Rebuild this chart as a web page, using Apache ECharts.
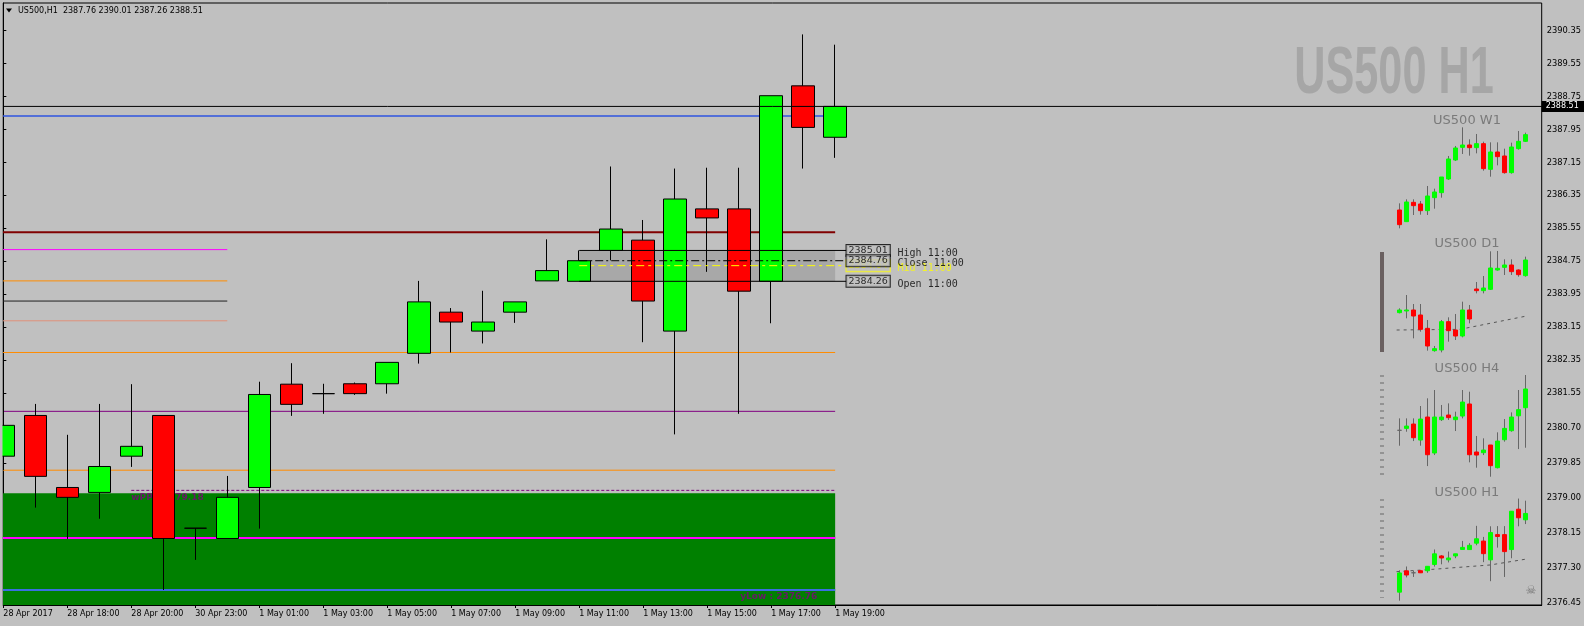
<!DOCTYPE html>
<html><head><meta charset="utf-8">
<script src="https://cdn.jsdelivr.net/npm/echarts@6/dist/echarts.min.js"></script>
<style>html,body{margin:0;padding:0;background:#c0c0c0;}#c{width:1584px;height:626px;}</style>
</head><body><div id="c"></div>
<script>
// ---------- DATA ----------
const timeTickIndex = [0,2,4,6,8,10,12,14,16,18,20,22,24,26];
const timeLabels = ['28 Apr 2017','28 Apr 18:00','28 Apr 20:00','30 Apr 23:00','1 May 01:00','1 May 03:00','1 May 05:00','1 May 07:00','1 May 09:00','1 May 11:00','1 May 13:00','1 May 15:00','1 May 17:00','1 May 19:00'];
const priceTicks = [2390.35,2389.55,2388.75,2387.95,2387.15,2386.35,2385.55,2384.75,2383.95,2383.15,2382.35,2381.55,2380.70,2379.85,2379.00,2378.15,2377.30,2376.45];
// main H1 candles: [open, close, low, high]
const h1Candles = [
 [2380.01,2380.76,2379.67,2382.01],[2381.00,2379.52,2378.76,2381.28],[2379.25,2379.01,2378.00,2380.53],
 [2379.13,2379.76,2378.49,2381.28],[2380.01,2380.25,2379.75,2381.76],[2381.00,2378.01,2376.76,2381.00],
 [2378.26,2378.26,2377.49,2378.26],[2378.01,2379.01,2378.01,2379.53],[2379.25,2381.51,2378.25,2381.82],
 [2381.76,2381.27,2380.99,2382.27],[2381.53,2381.53,2381.04,2381.77],[2381.77,2381.53,2381.50,2381.80],
 [2381.77,2382.29,2381.53,2382.29],[2382.51,2383.76,2382.26,2384.27],[2383.51,2383.27,2382.53,2383.61],
 [2383.05,2383.27,2382.75,2384.03],[2383.51,2383.76,2383.25,2383.76],[2384.27,2384.52,2384.27,2385.28],
 [2384.26,2384.76,2384.26,2385.01],[2385.01,2385.53,2384.77,2387.05],[2385.26,2383.78,2382.78,2385.75],
 [2383.05,2386.26,2380.54,2387.00],[2386.02,2385.80,2384.49,2387.02],[2386.02,2384.02,2381.04,2387.02],
 [2384.26,2388.77,2383.24,2388.77],[2389.01,2388.00,2387.00,2390.26],[2387.76,2388.51,2387.26,2390.01]
];
const w1Candles = [
 [2274.26,2252.26,2246.76,2284.26],[2256.76,2286.26,2256.76,2290.26],[2285.76,2280.76,2266.76,2290.26],
 [2283.26,2273.26,2267.26,2287.76],[2273.26,2295.26,2266.76,2310.26],[2292.76,2301.26,2276.26,2306.26],
 [2300.26,2323.76,2292.76,2323.76],[2320.76,2350.76,2319.26,2355.26],[2349.26,2367.26,2347.76,2370.26],
 [2368.26,2371.76,2358.26,2398.26],[2371.76,2367.76,2355.76,2380.26],[2367.76,2373.76,2359.26,2388.26],
 [2373.76,2336.26,2333.26,2376.76],[2335.26,2361.26,2324.26,2375.76],[2361.26,2354.26,2341.26,2375.76],
 [2355.26,2330.26,2328.76,2366.26],[2330.26,2368.76,2328.76,2375.26],[2366.26,2377.26,2364.76,2392.76],
 [2377.26,2387.26,2376.26,2390.26]
];
const d1Candles = [
 [2353.74,2355.48,2353.30,2356.56],[2354.83,2355.48,2350.04,2365.26],[2355.48,2351.56,2337.00,2359.39],
 [2352.22,2342.87,2341.35,2359.39],[2343.52,2332.00,2328.96,2348.96],[2328.96,2330.26,2328.30,2332.00],
 [2329.39,2347.87,2327.87,2348.96],[2347.87,2342.00,2334.83,2350.70],[2342.43,2338.52,2335.91,2352.87],
 [2338.52,2355.48,2337.65,2360.91],[2355.48,2349.61,2346.78,2358.74],[2369.17,2368.09,2366.35,2373.74],
 [2368.09,2369.83,2366.35,2377.65],[2368.96,2382.87,2368.52,2393.74],[2381.57,2382.65,2381.13,2393.96],
 [2383.30,2384.83,2378.30,2388.52],[2384.83,2380.48,2378.30,2388.52],[2381.57,2378.52,2377.22,2382.00],
 [2377.87,2388.09,2377.22,2390.26]
];
const h4Candles = [
 [2383.14,2383.14,2381.16,2384.68],[2383.39,2383.69,2382.96,2384.68],[2383.95,2382.19,2381.76,2384.68],
 [2381.89,2384.59,2381.16,2386.27],[2384.85,2380.00,2378.54,2387.26],[2380.22,2384.85,2379.96,2388.33],
 [2384.51,2384.85,2384.34,2386.40],[2385.11,2384.77,2384.47,2386.61],[2384.51,2384.85,2383.05,2385.54],
 [2384.98,2386.78,2384.68,2388.33],[2386.53,2380.00,2379.02,2388.11],[2380.35,2379.96,2378.33,2382.41],
 [2380.26,2380.60,2379.96,2382.11],[2381.25,2378.59,2377.17,2381.25],[2378.33,2381.76,2378.24,2382.88],
 [2381.93,2383.39,2381.68,2384.59],[2383.09,2384.85,2382.96,2385.45],[2385.01,2385.80,2380.73,2388.33],
 [2386.05,2388.46,2380.90,2390.26]
];
const d1Trend = [[-0.38,2342.43],[8.67,2342.87],[18.19,2351.56]];
const h1Trend = [[-0.4,2381.66],[5,2381.95],[13,2382.45],[18.2,2383.15]];
// horizontal levels
const longLevels = [2385.45, 2382.53, 2381.10, 2379.67, 2378.02, 2376.76];
const shortLevels = [2385.03, 2384.27, 2383.78, 2383.30];
const wPP = 2379.18, yLow = 2376.76, zoneTop = 2379.11;
const blueLevel = 2388.28, bid = 2388.51;
const hlNames = ['High 11:00','Mid 11:00','Close 11:00','Open 11:00'];
const hlPrices = [2385.01, 2384.64, 2384.76, 2384.26];
const titleText = 'US500,H1  2387.76 2390.01 2387.26 2388.51';
const miniTitles = ['US500 W1','US500 D1','US500 H4','US500 H1'];

// ---------- LAYOUT ----------
const PMIN = 2376.394, PMAX = 2391.023;
const XMIN = -0.01, XMAX = XMIN + 1539/32;
const FONT = '"DejaVu Sans", sans-serif';
const chart = echarts.init(document.getElementById('c'));

function seg(x0,x1,p,color,width,type,z){
  return {type:'line',xAxisIndex:0,yAxisIndex:0,data:[[x0,p],[x1,p]],symbol:'none',silent:true,z:z,
    lineStyle:{color:color,width:width,type:type}};
}
const series = [];
series.push({type:'line',xAxisIndex:0,yAxisIndex:0,data:[[XMIN,zoneTop]],symbol:'none',lineStyle:{width:0},z:0,silent:true,
  markArea:{silent:true,itemStyle:{color:'#008000'},data:[[{coord:[XMIN,zoneTop]},{coord:[26,PMIN]}]]}});
series.push({type:'line',xAxisIndex:0,yAxisIndex:0,data:[[18,hlPrices[0]]],symbol:'none',lineStyle:{width:0},z:0,silent:true,
  markArea:{silent:true,itemStyle:{color:'#a8a8a8'},data:[[{coord:[18,hlPrices[0]]},{coord:[26,hlPrices[3]]}]]}});
const longStyles = [['#800000',2],['#ff8c00',1],['#800080',1],['#ff8c00',1],['#ff00ff',2],['#3a6fe0',2]];
longLevels.forEach((p,i)=>series.push(seg(XMIN,26,p,longStyles[i][0],longStyles[i][1],'solid',1)));
const shortStyles = ['#ff00ff','#ff8c00','#202020','#e0907a'];
shortLevels.forEach((p,i)=>series.push(seg(XMIN,7,p,shortStyles[i],1,'solid',1)));
series.push(seg(4,26,wPP,'#800080',1,[3,2],1));
series.push(seg(XMIN,26,blueLevel,'#2f55e0',1.5,'solid',1));
series.push({type:'scatter',xAxisIndex:0,yAxisIndex:0,symbolSize:0,z:1,silent:true,
  data:[{value:[4,wPP],label:{show:true,position:'right',distance:0,offset:[0,7],formatter:'wPP : '+wPP.toFixed(2),
          color:'#800080',fontSize:9,fontWeight:'bold',fontFamily:FONT}},
        {value:[26,yLow],label:{show:true,position:'left',distance:0,offset:[-18,7],formatter:'yLow : '+yLow.toFixed(2),
          color:'#800080',fontSize:9,fontWeight:'bold',fontFamily:FONT}}]});
series.push({type:'candlestick',xAxisIndex:0,yAxisIndex:0,z:2,barWidth:23,clip:true,
  data:h1Candles.map((c,i)=>[i,c[0],c[1],c[2],c[3]]),
  itemStyle:{color:'#00ff00',color0:'#ff0000',borderColor:'#000',borderColor0:'#000',borderColorDoji:'#000',borderWidth:1}});
const xEnd = 26.355;
series.push(seg(18,xEnd,hlPrices[0],'#000',1,'solid',3));
series.push(seg(18,xEnd,hlPrices[3],'#000',1,'solid',3));
series.push(seg(18,xEnd,hlPrices[2],'#000',1,[8,3,2,3],3));
series.push(seg(18,xEnd,hlPrices[1],'#ffff00',1,[8,4,3,4],3));
series.push({type:'line',xAxisIndex:0,yAxisIndex:0,data:[[XMIN,bid],[XMAX,bid]],symbol:'none',z:3,silent:true,
  lineStyle:{color:'#000',width:1},
  endLabel:{show:true,formatter:bid.toFixed(2),color:'#fff',backgroundColor:'#000',fontSize:8,fontFamily:FONT,padding:[2,7,1,4],distance:0}});
const labelData = [];
hlPrices.forEach((p,i)=>{
  const yellow = hlNames[i].startsWith('Mid');
  labelData.push({value:[xEnd,p],label:{show:true,position:'right',distance:0,formatter:p.toFixed(2),
    color: yellow?'#ffff00':'#000',backgroundColor:'#c0c0c0',borderColor:yellow?'#ffff00':'#000',borderWidth:1,
    padding:[1,2,0,2],fontSize:9.5,fontFamily:FONT}});
});
hlPrices.forEach((p,i)=>{
  const yellow = hlNames[i].startsWith('Mid');
  labelData.push({value:[27.95,p],label:{show:true,position:'right',distance:0,offset:[0,3],formatter:hlNames[i],
    color: yellow?'#ffff00':'#000',fontSize:10,fontFamily:'"DejaVu Sans Mono", monospace'}});
});
series.push({type:'scatter',xAxisIndex:0,yAxisIndex:0,symbolSize:0,z:4,silent:true,data:labelData});

const miniSets = [w1Candles,d1Candles,h4Candles,h1Candles.slice(8)];
miniSets.forEach((set,k)=>{
  const ax = k+1;
  series.push({type:'candlestick',xAxisIndex:ax,yAxisIndex:ax,z:2,barWidth:1,
    data:set.map((c,i)=>[i,c[0],c[1],c[2],c[3]]),
    itemStyle:{color:'#666',color0:'#666',borderColor:'#666',borderColor0:'#666',borderColorDoji:'#666',borderWidth:1}});
  series.push({type:'candlestick',xAxisIndex:ax,yAxisIndex:ax,z:3,barWidth:4,
    data:set.map((c,i)=>[i,c[0],c[1],Math.min(c[0],c[1]),Math.max(c[0],c[1])]),
    itemStyle:{color:'#00ff00',color0:'#ff0000',borderColor:'#00ff00',borderColor0:'#ff0000',borderColorDoji:'#666',borderWidth:1}});
});
[[2,d1Trend],[4,h1Trend]].forEach(([ax,pts])=>{
  series.push({type:'line',xAxisIndex:ax,yAxisIndex:ax,data:pts,symbol:'none',z:1,silent:true,
    lineStyle:{color:'#555',width:1,type:[3,4]}});
});

const miniGrids = [[120,113.33,2239.26,2409.26],[246.67,110,2325.04,2396.78],[371.67,106.67,2376.96,2390.69],[495,110,2377.74,2390.68]];
const grids = [{left:3,right:42,top:3,bottom:21,show:true,borderColor:'#000',borderWidth:1}];
const xAxes = [{type:'value',gridIndex:0,min:XMIN,max:XMAX,splitLine:{show:false},
  axisLine:{show:true,lineStyle:{color:'#000'}},
  axisTick:{show:true,customValues:timeTickIndex,length:3,lineStyle:{color:'#000'}},
  axisLabel:{customValues:timeTickIndex,formatter:v=>timeLabels[timeTickIndex.indexOf(Math.round(v))],
    align:'left',color:'#000',fontSize:8,fontFamily:FONT,margin:5}}];
const yAxes = [{type:'value',gridIndex:0,position:'right',min:PMIN,max:PMAX,splitLine:{show:false},
  axisLine:{show:true,lineStyle:{color:'#000'}},
  axisTick:{show:true,customValues:priceTicks,length:3,lineStyle:{color:'#000'}},
  axisLabel:{customValues:priceTicks,formatter:v=>v.toFixed(2),color:'#000',fontSize:8.3,fontFamily:FONT,margin:5}}];
miniGrids.forEach((g,k)=>{
  grids.push({left:1392.3,width:140,top:g[0],height:g[1]});
  xAxes.push({type:'value',gridIndex:k+1,min:-1,max:19,show:false});
  yAxes.push({type:'value',gridIndex:k+1,min:g[2],max:g[3],show:false});
});

const graphic = [
  {type:'rect',z:100,shape:{x:0,y:0,width:2.5,height:626},style:{fill:'#c0c0c0'}},
  {type:'polygon',shape:{points:[[6,8.5],[12,8.5],[9,12.5]]},style:{fill:'#000'}},
  {type:'text',x:18,y:11,style:{text:titleText,fill:'#000',font:'8px '+FONT,verticalAlign:'middle'}},
  {type:'text',x:1394,y:75,scaleX:0.655,style:{text:'US500 H1',fill:'#a6a6a6',font:'bold 66px "Liberation Sans", Arial, sans-serif',align:'center',verticalAlign:'middle'}},
  {type:'rect',shape:{x:1380,y:252,width:4,height:100},style:{fill:'#6a6060'}},
  {type:'line',shape:{x1:1382,y1:375.5,x2:1382,y2:476},style:{stroke:'#666',lineWidth:4,lineDash:[1,6]}},
  {type:'line',shape:{x1:1382,y1:499.5,x2:1382,y2:598},style:{stroke:'#666',lineWidth:4,lineDash:[1,6]}},
  {type:'text',x:1531,y:591,style:{text:'\u2620',fill:'#777',font:'12px '+FONT,align:'center',verticalAlign:'middle'}}
];
[120.7,244,368.3,492.3].forEach((y,k)=>graphic.push({type:'text',x:1467,y:y,style:{text:miniTitles[k],fill:'#7a7a7a',font:'13px '+FONT,align:'center',verticalAlign:'middle'}}));

chart.setOption({animation:false,backgroundColor:'#c0c0c0',grid:grids,xAxis:xAxes,yAxis:yAxes,series:series,graphic:graphic});
</script></body></html>
